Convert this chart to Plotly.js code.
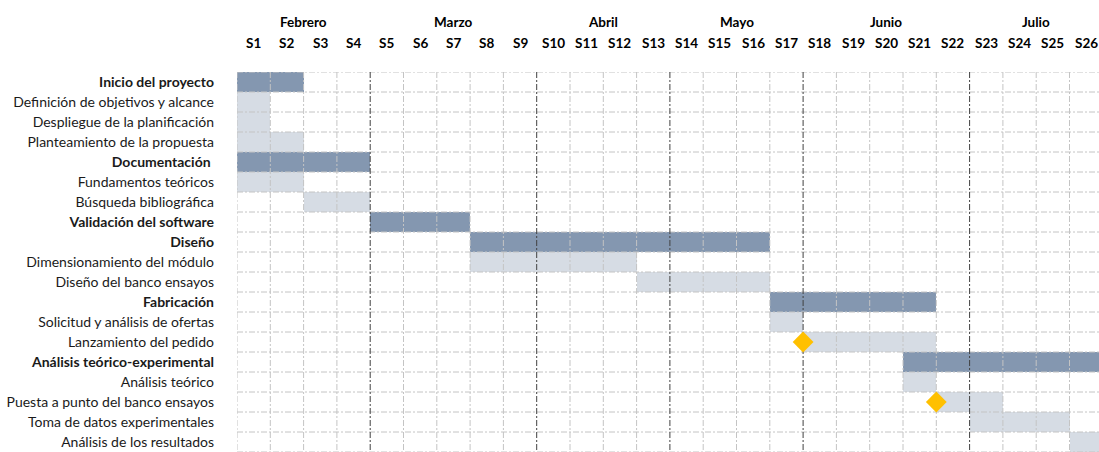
<!DOCTYPE html>
<html>
<head>
<meta charset="utf-8">
<script src="https://cdn.plot.ly/plotly-3.0.1.min.js"></script>
<style>html,body{margin:0;padding:0;background:#fff;}#chart{width:1099px;height:452px;}</style>
</head>
<body>
<div id="chart"></div>
<script>
// ---- Data ----
const tasks = [
  "Inicio del proyecto",
  "Definición de objetivos y alcance",
  "Despliegue de la planificación",
  "Planteamiento de la propuesta",
  "Documentación ",
  "Fundamentos teóricos",
  "Búsqueda bibliográfica",
  "Validación del software",
  "Diseño",
  "Dimensionamiento del módulo",
  "Diseño del banco ensayos",
  "Fabricación",
  "Solicitud y análisis de ofertas",
  "Lanzamiento del pedido",
  "Análisis teórico-experimental",
  "Análisis teórico",
  "Puesta a punto del banco ensayos",
  "Toma de datos experimentales",
  "Análisis de los resultados"
];
// start week (0 = beginning of S1) and duration in weeks
const startWeek = [0, 0, 0, 0, 0, 0, 2, 4, 7, 7, 12, 16, 16, 17, 20, 20, 21, 22, 25];
const durationWeeks = [2, 1, 1, 2, 4, 2, 2, 3, 9, 5, 4, 5, 1, 4, 6, 1, 2, 3, 1];
const isPhase = [true, false, false, false, true, false, false, true, true, false, false, true, false, false, true, false, false, false, false];

const milestoneTasks = ["Lanzamiento del pedido", "Puesta a punto del banco ensayos"];
const milestoneWeek = [17, 21];

const months = ["Febrero", "Marzo", "Abril", "Mayo", "Junio", "Julio"];
const monthWeeks = [4, 5, 4, 4, 5, 4];
const weekLabels = ["S1","S2","S3","S4","S5","S6","S7","S8","S9","S10","S11","S12","S13","S14","S15","S16","S17","S18","S19","S20","S21","S22","S23","S24","S25","S26"];

// ---- Style ----
const FONT = "Lato, 'Open Sans', sans-serif";
const darkBar = "#8497B0";
const lightBar = "#D6DCE4";
const gridColor = "#C4C4C4";
const monthLineColor = "#404040";
const DASH = "6px,2px,2px,2px";
const weekPx = 33.3;
const plotLeft = 237, plotTop = 72, W = 1099, H = 452;
const plotWidth = W - plotLeft;

const rowIndex = tasks.map((t, i) => i);
const nWeeks = weekLabels.length;

const traces = [];
// bars
traces.push({
  type: "bar",
  orientation: "h",
  y: rowIndex,
  x: durationWeeks,
  base: startWeek,
  width: 1,
  marker: { color: isPhase.map(p => p ? darkBar : lightBar), line: { width: 0 } },
  hoverinfo: "skip",
  showlegend: false
});

// grid lines (drawn as line traces so they sit above bars but below milestones)
const hx = [], hy = [];
for (let i = 0; i <= tasks.length; i++) {
  hx.push(0, nWeeks, null); hy.push(i - 0.5, i - 0.5, null);
}
const monthBounds = [];
let acc = 0;
monthWeeks.forEach(n => { acc += n; monthBounds.push(acc); });
const vx = [], vy = [], mx = [], my = [];
for (let k = 0; k <= nWeeks; k++) {
  if (monthBounds.includes(k) && k < nWeeks) {
    mx.push(k, k, null); my.push(-0.5, tasks.length - 0.5, null);
  } else {
    vx.push(k, k, null); vy.push(-0.5, tasks.length - 0.5, null);
  }
}
traces.push({ type: "scatter", mode: "lines", x: hx, y: hy, line: { color: gridColor, width: 1, dash: DASH }, hoverinfo: "skip", showlegend: false });
traces.push({ type: "scatter", mode: "lines", x: vx, y: vy, line: { color: gridColor, width: 1, dash: DASH }, hoverinfo: "skip", showlegend: false });
traces.push({ type: "scatter", mode: "lines", x: mx, y: my, line: { color: monthLineColor, width: 1, dash: DASH }, hoverinfo: "skip", showlegend: false });

// milestones
traces.push({
  type: "scatter",
  mode: "markers",
  y: milestoneTasks.map(t => tasks.indexOf(t)),
  x: milestoneWeek,
  marker: { symbol: "diamond", size: 16, color: "#FFC000", line: { width: 0 } },
  hoverinfo: "skip",
  showlegend: false
});

// header annotations
const annotations = [];
let s = 0;
months.forEach((m, i) => {
  annotations.push({ text: "<b>" + m + "</b>", x: s + monthWeeks[i] / 2, xref: "x", y: 1, yref: "paper",
    yanchor: "middle", yshift: 50, showarrow: false, font: { family: FONT, size: 13.5, color: "#000" } });
  s += monthWeeks[i];
});
weekLabels.forEach((w, i) => {
  annotations.push({ text: "<b>" + w + "</b>", x: i + 0.5, xref: "x", y: 1, yref: "paper",
    yanchor: "middle", yshift: 29, showarrow: false, font: { family: FONT, size: 13.5, color: "#000" } });
});

const layout = {
  width: W, height: H,
  margin: { l: plotLeft, r: 0, t: plotTop, b: 0, pad: 0 },
  paper_bgcolor: "#fff", plot_bgcolor: "#fff",
  bargap: 0,
  showlegend: false,
  xaxis: { range: [0, plotWidth / weekPx], showgrid: false, zeroline: false, showticklabels: false, ticks: "", fixedrange: true },
  yaxis: {
    range: [tasks.length - 0.5, -0.5],
    showgrid: false, zeroline: false, ticks: "",
    tickmode: "array", tickvals: rowIndex,
    ticktext: tasks.map((t, i) => isPhase[i] ? "<b>" + t + "</b>" : t),
    ticklabelstandoff: 22,
    tickfont: { family: FONT, size: 14, color: "#1a1a1a" },
    fixedrange: true
  },
  annotations: annotations
};

Plotly.newPlot("chart", traces, layout, { displayModeBar: false, staticPlot: true });
</script>
</body>
</html>
